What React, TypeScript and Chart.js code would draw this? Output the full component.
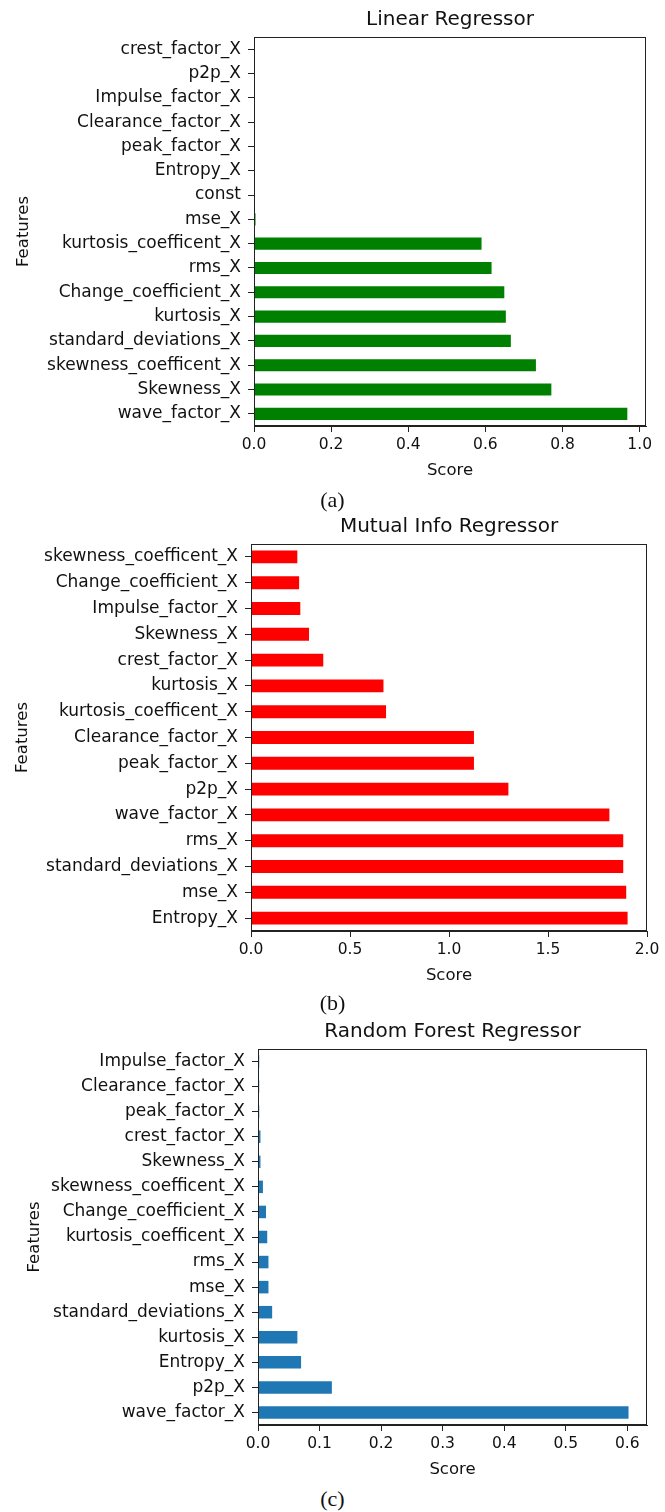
import React, { useEffect, useRef } from "react";
import { Chart, registerables } from "chart.js";

Chart.register(...registerables);

// ---------- Data ----------
const linearLabels = [
  "crest_factor_X",
  "p2p_X",
  "Impulse_factor_X",
  "Clearance_factor_X",
  "peak_factor_X",
  "Entropy_X",
  "const",
  "mse_X",
  "kurtosis_coefficent_X",
  "rms_X",
  "Change_coefficient_X",
  "kurtosis_X",
  "standard_deviations_X",
  "skewness_coefficent_X",
  "Skewness_X",
  "wave_factor_X",
];
const linearScores = [0, 0, 0, 0, 0, 0, 0, 0.004, 0.59, 0.616, 0.649, 0.653, 0.666, 0.731, 0.771, 0.968];
const linearTicks = [0, 0.2, 0.4, 0.6, 0.8, 1.0];

const mutualLabels = [
  "skewness_coefficent_X",
  "Change_coefficient_X",
  "Impulse_factor_X",
  "Skewness_X",
  "crest_factor_X",
  "kurtosis_X",
  "kurtosis_coefficent_X",
  "Clearance_factor_X",
  "peak_factor_X",
  "p2p_X",
  "wave_factor_X",
  "rms_X",
  "standard_deviations_X",
  "mse_X",
  "Entropy_X",
];
const mutualScores = [0.234, 0.243, 0.249, 0.293, 0.365, 0.669, 0.682, 1.126, 1.126, 1.3, 1.81, 1.88, 1.88, 1.895, 1.902];
const mutualTicks = [0, 0.5, 1.0, 1.5, 2.0];

const forestLabels = [
  "Impulse_factor_X",
  "Clearance_factor_X",
  "peak_factor_X",
  "crest_factor_X",
  "Skewness_X",
  "skewness_coefficent_X",
  "Change_coefficient_X",
  "kurtosis_coefficent_X",
  "rms_X",
  "mse_X",
  "standard_deviations_X",
  "kurtosis_X",
  "Entropy_X",
  "p2p_X",
  "wave_factor_X",
];
const forestScores = [0.002, 0.002, 0.002, 0.004, 0.004, 0.008, 0.013, 0.015, 0.017, 0.017, 0.023, 0.064, 0.07, 0.12, 0.602];
const forestTicks = [0, 0.1, 0.2, 0.3, 0.4, 0.5, 0.6];

const panelTitles = ["Linear Regressor", "Mutual Info Regressor", "Random Forest Regressor"];
const captions = ["(a)", "(b)", "(c)"];

// ---------- Styles ----------
const FONT = "'DejaVu Sans', sans-serif";
const TEXT = "#111111";
const LINE = "#222222";
const PAGE_W = 665;

const framePlugin = {
  id: "frame",
  afterDraw(chart: any) {
    const { ctx, chartArea: a } = chart;
    ctx.save();
    ctx.strokeStyle = LINE;
    ctx.lineWidth = 1;
    const l = Math.round(a.left) + 0.5;
    const t = Math.round(a.top) + 0.5;
    const r = Math.round(a.right) - 0.5;
    const b = Math.round(a.bottom) - 0.5;
    ctx.strokeRect(l, t, r - l, b - t);
    ctx.restore();
  },
};

type PanelCfg = {
  title: string;
  labels: string[];
  values: number[];
  ticks: number[];
  color: string;
  xMax: number;
  boxLeft: number;
  boxRight: number;
  boxTop: number;
  boxBottom: number;
  featuresX: number;
};

const TOP_REL = 37; // canvas top -> box top
const BOTTOM_REL = 56; // box bottom -> canvas bottom
const TITLE_SIZE = 20;
const TITLE_LH = TITLE_SIZE * 1.2;
const TITLE_CENTER = 20;

function Panel({ cfg }: { cfg: PanelCfg }) {
  const ref = useRef<HTMLCanvasElement>(null);
  const canvasTop = cfg.boxTop - TOP_REL;
  const height = cfg.boxBottom - canvasTop + BOTTOM_REL;

  useEffect(() => {
    const chart = new Chart(ref.current as HTMLCanvasElement, {
      type: "bar",
      data: {
        labels: cfg.labels,
        datasets: [
          {
            data: cfg.values,
            backgroundColor: cfg.color,
            borderWidth: 0,
            categoryPercentage: 0.5,
            barPercentage: 1,
          },
        ],
      },
      options: {
        indexAxis: "y",
        animation: false,
        responsive: false,
        events: [],
        layout: { padding: { left: 0, right: PAGE_W - cfg.boxRight, top: 0, bottom: 0 } },
        plugins: {
          legend: { display: false },
          tooltip: { enabled: false },
          title: {
            display: true,
            text: cfg.title,
            fullSize: false,
            color: TEXT,
            font: { family: FONT, size: TITLE_SIZE, weight: "normal", lineHeight: 1.2 },
            padding: {
              top: TITLE_CENTER - TITLE_LH / 2,
              bottom: TOP_REL - (TITLE_CENTER - TITLE_LH / 2) - TITLE_LH,
            },
          },
        },
        scales: {
          x: {
            type: "linear",
            min: 0,
            max: cfg.xMax,
            afterBuildTicks: (s: any) => {
              s.ticks = cfg.ticks.map((v) => ({ value: v }));
            },
            ticks: {
              callback: (v: any) => Number(v).toFixed(1),
              color: TEXT,
              font: { family: FONT, size: 15.5 },
              padding: 4,
              maxRotation: 0,
              autoSkip: false,
            },
            grid: { drawOnChartArea: false, drawTicks: true, tickLength: 6, color: LINE },
            border: { display: true, color: LINE, width: 1 },
            title: {
              display: true,
              text: "Score",
              color: TEXT,
              font: { family: FONT, size: 16.5, lineHeight: 1.2 },
              padding: { top: 0, bottom: 1.5 },
            },
            afterFit: (s: any) => {
              s.height = BOTTOM_REL;
            },
          },
          y: {
            type: "category",
            offset: true,
            grid: { offset: false, drawOnChartArea: false, drawTicks: true, tickLength: 6, color: LINE },
            border: { display: true, color: LINE, width: 1 },
            ticks: { color: TEXT, font: { family: FONT, size: 17 }, padding: 7, autoSkip: false },
            title: {
              display: true,
              text: "Features",
              color: TEXT,
              font: { family: FONT, size: 16.5, lineHeight: 1.2 },
              padding: { top: cfg.featuresX - 9.9, bottom: 0 },
            },
            afterFit: (s: any) => {
              s.width = cfg.boxLeft;
            },
          },
        },
      } as any,
      plugins: [framePlugin],
    });
    return () => chart.destroy();
  }, []);

  return (
    <canvas
      ref={ref}
      width={PAGE_W}
      height={height}
      style={{ position: "absolute", left: 0, top: canvasTop, width: PAGE_W, height, display: "block" }}
    />
  );
}

const panels: PanelCfg[] = [
  {
    title: panelTitles[0],
    labels: linearLabels,
    values: linearScores,
    ticks: linearTicks,
    color: "#008000",
    xMax: 1.0164,
    boxLeft: 254,
    boxRight: 646,
    boxTop: 37,
    boxBottom: 426,
    featuresX: 24,
  },
  {
    title: panelTitles[1],
    labels: mutualLabels,
    values: mutualScores,
    ticks: mutualTicks,
    color: "#ff0000",
    xMax: 2.0,
    boxLeft: 251,
    boxRight: 647,
    boxTop: 544,
    boxBottom: 931,
    featuresX: 23,
  },
  {
    title: panelTitles[2],
    labels: forestLabels,
    values: forestScores,
    ticks: forestTicks,
    color: "#1f77b4",
    xMax: 0.632,
    boxLeft: 258,
    boxRight: 647,
    boxTop: 1049,
    boxBottom: 1425,
    featuresX: 35,
  },
];

const captionCenters = [500, 1003, 1499];

export default function App() {
  return (
    <div style={{ position: "absolute", left: 0, top: 0, width: PAGE_W, height: 1512, background: "#fff", overflow: "hidden" }}>
      {panels.map((p, i) => (
        <Panel key={i} cfg={p} />
      ))}
      {captions.map((c, i) => (
        <div
          key={c}
          style={{
            position: "absolute",
            left: 0,
            width: PAGE_W,
            top: captionCenters[i] - 13,
            height: 26,
            lineHeight: "26px",
            textAlign: "center",
            fontFamily: "'Liberation Serif', 'Times New Roman', serif",
            fontSize: 22,
            color: "#111",
          }}
        >
          {c}
        </div>
      ))}
    </div>
  );
}
